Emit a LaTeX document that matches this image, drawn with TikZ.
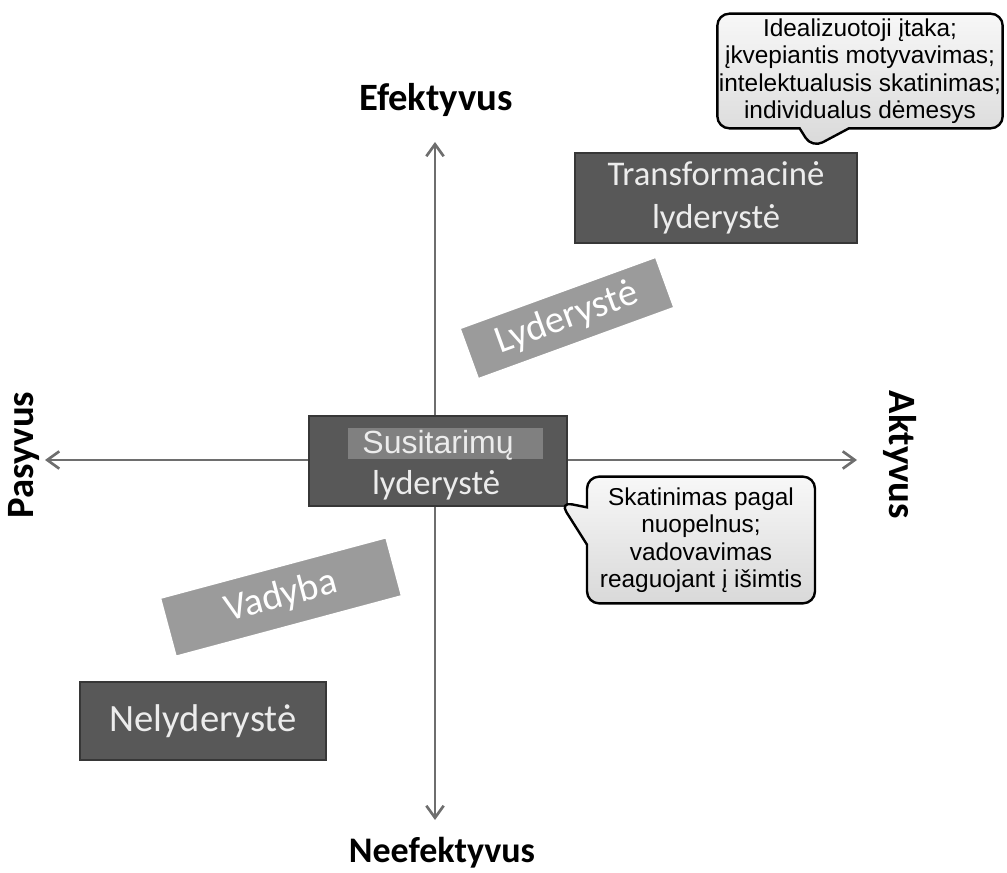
\documentclass[tikz,border=0pt]{standalone}
\usepackage{fontspec}
\setmainfont{Carlito}
\newfontfamily\arialfont{Liberation Sans}
\usetikzlibrary{arrows.meta,shapes.callouts}

\definecolor{boxgray}{RGB}{88,88,88}
\definecolor{boxedge}{RGB}{55,55,55}
\definecolor{hlgray}{RGB}{128,128,128}
\definecolor{axisgray}{RGB}{110,110,110}
\definecolor{taggray}{RGB}{155,155,155}
\definecolor{boxtext}{RGB}{236,236,236}

\tikzset{
  axis/.style={axisgray,line width=2.2pt,
    {Straight Barb[length=9pt,width=13pt,line width=2pt]}-{Straight Barb[length=9pt,width=13pt,line width=2pt]}},
  axislabel/.style={font=\fontsize{29}{32}\selectfont\bfseries},
  darkbox/.style={fill=boxgray,draw=boxedge,line width=1.5pt,text=boxtext,
    align=center,inner sep=0pt,font=\fontsize{26}{32}\selectfont},
  tagbox/.style={fill=taggray,draw=white,line width=2pt,text=white,
    inner sep=0pt,font=\fontsize{29}{32}\selectfont},
  bubble/.style={rectangle callout,rounded corners=9pt,draw=black,line width=1.8pt,
    top color=gray!6,bottom color=gray!30,align=center,inner sep=0pt,
    font=\arialfont\fontsize{18.3}{20.6}\selectfont}
}

\begin{document}
\begin{tikzpicture}[x=0.75pt,y=-0.75pt]
\useasboundingbox (0,0) rectangle (1007,873);

% axes
\coordinate (west) at (45,460);
\coordinate (east) at (857,460);
\coordinate (north) at (435,142);
\coordinate (south) at (435,820);
\draw[axis] (west) -- (east);
\draw[axis] (north) -- (south);

\node[axislabel] (efekt) at (436,100) {Efektyvus};
\node[axislabel,font=\fontsize{27}{30}\selectfont\bfseries] (neefekt) at (442,853) {Neefektyvus};
\node[axislabel,rotate=90] (pasyv) at (24,455) {Pasyvus};
\node[axislabel,rotate=-90] (aktyv) at (900,455) {Aktyvus};

% tilted tags
\node[tagbox,rotate=20,minimum width=157pt,minimum height=41pt] (lyd) at (567,318) {Lyderystė};
\node[tagbox,rotate=15,minimum width=176pt,minimum height=46pt] (vad) at (281,597) {Vadyba};

% boxes
\node[darkbox,minimum width=212pt,minimum height=68pt] (transf) at (716,198) {Transformacinė\\lyderystė};
\node[darkbox,minimum width=193pt,minimum height=67pt] (susit) at (438,461) {};
\fill[hlgray] (348,428) rectangle (543,459);
\node[text=boxtext,font=\arialfont\fontsize{24}{28}\selectfont] (susit1) at (438,445) {Susitarimų};
\node[text=boxtext,font=\fontsize{26}{30}\selectfont] (susit2) at (436,485) {lyderystė};
\node[darkbox,minimum width=185pt,minimum height=58pt,font=\fontsize{29}{32}\selectfont] (nelyd) at (203,721) {Nelyderystė};

% callouts
\node[bubble,minimum width=214pt,minimum height=86pt,callout pointer width=37pt,
  callout absolute pointer={(812,148)}] (transfnote) at (860,71) {Idealizuotoji įtaka;\\įkvepiantis motyvavimas;\\intelektualusis skatinimas;\\individualus dėmesys};
\node[bubble,minimum width=171pt,minimum height=95pt,callout pointer width=28pt,
  callout absolute pointer={(560,502)}] (susitnote) at (701,540) {Skatinimas pagal\\nuopelnus;\\vadovavimas\\reaguojant į išimtis};
\end{tikzpicture}
\end{document}
